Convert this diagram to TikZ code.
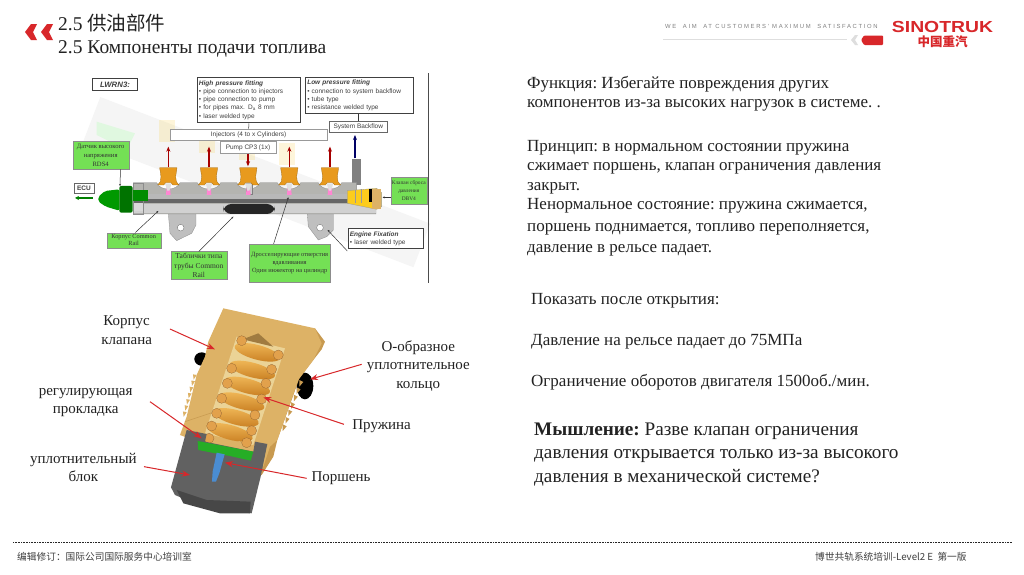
\documentclass[tikz,border=0pt]{standalone}
\usepackage{fontspec}
\setmainfont{Liberation Serif}
\newfontfamily\cjk{Noto Sans CJK SC}
\newfontfamily\sansf{Liberation Sans}
\newfontfamily\tagf[LetterSpace=28]{Liberation Sans}
\usetikzlibrary{arrows.meta,calc}
\definecolor{redm}{HTML}{D8272A}
\definecolor{gbox}{HTML}{74E055}
\definecolor{tan1}{HTML}{DDB266}
\definecolor{tan2}{HTML}{C89A50}
\definecolor{cav}{HTML}{EBD396}
\definecolor{orng}{HTML}{E89A1E}
\definecolor{coilhi}{HTML}{F0B858}
\definecolor{coillo}{HTML}{C97F22}
\definecolor{coilsec}{HTML}{E2A14C}
\definecolor{railg}{HTML}{B4B4B0}
\definecolor{ink}{HTML}{222222}
\tikzset{
 body/.style={anchor=base west,inner sep=0,text=ink,font=\fontsize{17}{18}\selectfont\frenchspacing},
 bigbody/.style={anchor=base west,inner sep=0,text=ink,font=\fontsize{19.2}{20}\selectfont\frenchspacing},
 lab/.style={inner sep=0,align=center,text=ink,font=\fontsize{15}{18.5}\selectfont},
 titl/.style={anchor=base west,inner sep=0,text=ink,font=\fontsize{19.5}{20}\selectfont},
 foot/.style={anchor=west,inner sep=0,text=black!75,font=\fontsize{9.7}{10}\selectfont\cjk},
 redarrow/.style={-{Stealth[length=8pt,width=6pt]},redm,line width=1pt},
 bluntlead/.style={black!80,line width=.5pt},
 whitebox/.style={draw=#1,fill=white,line width=.8pt,inner sep=0,text=black!75,font=\fontsize{6.5}{8.3}\selectfont\sansf},
 whitebox/.default=black!75,
 greenbox/.style={draw=black!45,fill=gbox,line width=.3pt,inner sep=0,align=center,text=black!80,font=\fontsize{6.6}{8.7}\selectfont},
 upr/.style={-{Stealth[length=5pt,width=4pt]},line width=1.3pt,draw=red!65!black},
}
\begin{document}
\begin{tikzpicture}[x=1pt,y=-1pt]
\useasboundingbox (0,0) rectangle (1024,574);
\fill[white] (0,0) rectangle (1024,574);

% header chevrons
\fill[redm] (31,24)--(37,24)--(33,32)--(37,40)--(31,40)--(25,32)--cycle;
\fill[redm] (47,24)--(53,24)--(49,32)--(53,40)--(47,40)--(41,32)--cycle;
\node[titl] (t1) at (58,30) {2.5 {\cjk 供油部件}};
\node[titl] (t2) at (58,53) {2.5 Компоненты подачи топлива};

% logo
\node[anchor=west,inner sep=0,text=black!50,font=\fontsize{5.9}{6}\selectfont\tagf] (tag) at (665,26.5) {WE\ \ AIM\ \ AT CUSTOMERS' MAXIMUM\ \ SATISFACTION};
\draw[black!13,line width=1pt] (663,39.5) -- (847,39.5);
\fill[black!13] (855,35)--(851,40)--(855,45)--(858,45)--(855,40)--(858,35)--cycle;
\fill[redm,rounded corners=1pt] (864,35.5)--(883,35.5)--(883,45)--(864,45)--(861,40)--cycle;
\node[inner sep=0,text=redm,font=\fontsize{16}{16}\selectfont\sansf\bfseries] (logo) at (942.5,27) {\scalebox{1.21}[1]{SINOTRUK}};
\node[inner sep=0,text=redm,font=\fontsize{12.5}{13}\selectfont\cjk\bfseries] (logoc) at (942.5,42) {中国重汽};

% ================= rail picture (reference crop units: 1/3 px)
\begin{scope}[shift={(60,70)},x=.3333pt,y=-.3333pt]
 % faded tube and ghost parts
 \fill[black!4,rotate around={-21:(600,340)}] (60,270) rectangle (1120,410);
 \fill[green!30!white,opacity=.3] (110,155)--(225,190)--(200,240)--(110,195)--cycle;
 \foreach \gx/\gy in {320/170,440/205,560/225,680/240}
  \fill[yellow!55!orange,opacity=.15] (\gx-22,\gy-20) rectangle (\gx+25,\gy+45);
 % vertical rule
 \draw[black!70,line width=.7pt] (1105,10) -- (1105,640);
 % brackets
 \fill[black!25,draw=black!45,line width=.3pt] (325,430)--(408,430)--(408,465)--(395,490)--(350,512)--(330,490)--cycle;
 \fill[white,draw=black!60,line width=.3pt] (362,473) circle (10);
 \fill[black!25,draw=black!45,line width=.3pt] (742,430)--(820,430)--(820,480)--(800,500)--(775,510)--(745,470)--cycle;
 \fill[white,draw=black!60,line width=.3pt] (780,473) circle (10);
 % pipe to backflow
 \fill[black!50] (875,268)--(903,268)--(903,345)--(875,345)--cycle;
 % rail body
 \fill[railg,draw=black!45,line width=.3pt] (220,338)--(290,338) to[out=-70,in=-110] (360,338)--(412,338) to[out=-70,in=-110] (482,338)--(530,338) to[out=-70,in=-110] (600,338)--(652,338) to[out=-70,in=-110] (722,338)--(775,338) to[out=-70,in=-110] (845,338)--(890,338)--(890,400)--(948,400)--(948,432)--(220,432)--cycle;
 \fill[black!60] (220,388)--(890,388)--(890,400)--(220,400)--cycle;
 \fill[black!18] (220,402)--(948,402)--(948,430)--(220,430)--cycle;
 \fill[black!28] (250,372)--(862,372)--(862,388)--(250,388)--cycle;
 \fill[black!15] (220,400) rectangle (250,424);
 \draw[black!45,line width=.3pt] (220,338) rectangle (250,432);
 % name plate
 \fill[black!85,rounded corners=8pt] (490,402) rectangle (645,432);
 % pump port
 \fill[black!20,draw=black!50,line width=.3pt] (559,340) rectangle (575,372);
 % injectors fittings
 \foreach \ix in {325,447,565,688,810}{
  \fill[pink!70!magenta] (\ix-5,350)--(\ix+5,350)--(\ix+7,375)--(\ix-7,375)--cycle;
  \fill[black!12] (\ix-10,340)--(\ix+10,340)--(\ix+3,362)--(\ix-3,362)--cycle;
  \fill[orng,draw=orng!70!black,line width=.3pt] (\ix-26,293)--(\ix+26,293)--(\ix+22,320)--(\ix+24,335)--(\ix+32,345)--(\ix+14,345)--(\ix+8,338)--(\ix-8,338)--(\ix-14,345)--(\ix-32,345)--(\ix-24,335)--(\ix-22,320)--cycle;
 }
 % red arrows
 \foreach \ix/\nm in {325/a,447/b,688/c,810/d}{
  \coordinate (f\nm) at (\ix,292);
  \coordinate (e\nm) at (\ix,230);
  \draw[upr] (f\nm) -- (e\nm);
 }
 % valve right
 \fill[yellow!60!orange!90!white,draw=black!40,line width=.3pt] (862,362)--(950,355)--(965,368)--(965,410)--(950,418)--(862,400)--cycle;
 \fill[black] (927,358) rectangle (936,395);
 \fill[tan1] (936,356) rectangle (962,418);
 \draw[black!40,line width=.3pt] (885,360)--(885,400) (905,358)--(905,400);
 % sensor
 \fill[green!60!black,rounded corners=2pt] (115,380)--(135,363)--(178,358)--(178,422)--(138,410)--(115,395)--cycle;
 \fill[green!45!black,rounded corners=2pt] (178,348) rectangle (218,428);
 \fill[green!55!black] (218,360) rectangle (265,392);
 % boxes
 \node[whitebox,minimum width=45pt,minimum height=12.3pt,font=\fontsize{7.8}{8}\selectfont\sansf\bfseries\itshape,line width=.9pt] (lw) at (165,43.5) {LWRN3:};
 \node[whitebox,anchor=north west,minimum width=103pt,minimum height=45.7pt,align=left,text width=100pt,inner sep=1.4pt,line width=.9pt] (hp) at (411,20)
  {{\bfseries\itshape High pressure fitting}\\ • pipe connection to injectors\\ • pipe connection to pump\\ • for pipes max. D\textsubscript{a} 8 mm\\ • laser welded type};
 \node[whitebox,anchor=north west,minimum width=107.7pt,minimum height=36.7pt,align=left,text width=104pt,inner sep=1.4pt,line width=.9pt] (lp) at (735,20)
  {{\bfseries\itshape Low pressure fitting}\\ • connection to system backflow\\ • tube type\\ • resistance welded type};
 \node[whitebox=black!40,minimum width=156.7pt,minimum height=11.7pt,line width=.5pt] (inj) at (566,194.5) {Injectors (4 to x Cylinders)};
 \node[whitebox=black!40,minimum width=56pt,minimum height=11.7pt,line width=.5pt] (pump) at (564,232.5) {Pump CP3 (1x)};
 \node[whitebox=black!60,minimum width=58pt,minimum height=10.7pt,line width=.5pt] (sb) at (895,171) {System Backflow};
 \node[whitebox=black!60,minimum width=20pt,minimum height=10pt,font=\fontsize{6.5}{7}\selectfont\sansf\bfseries,line width=.4pt] (ecu) at (72,355) {ECU};
 \node[whitebox,anchor=north west,minimum width=75.7pt,minimum height=20pt,align=left,text width=72pt,inner sep=1.4pt,line width=.7pt] (ef) at (863,475)
  {{\bfseries\itshape Engine Fixation}\\ • laser welded type};
 \node[greenbox,minimum width=56pt,minimum height=27.7pt] (g1) at (122,256.5) {Датчик высокого\\напряжения\\RDS4};
 \node[greenbox,minimum width=54pt,minimum height=15pt,font=\fontsize{6.3}{7.3}\selectfont] (g2) at (221,510.5) {Корпус Common\\Rail};
 \node[greenbox,minimum width=55.7pt,minimum height=27.7pt,font=\fontsize{7.5}{9.5}\selectfont] (g3) at (416.5,586.5) {Таблички типа\\трубы Common\\Rail};
 \node[greenbox,minimum width=80.7pt,minimum height=37.7pt,font=\fontsize{6.4}{8.2}\selectfont] (g4) at (689,578.5) {Дросселирующие отверстия\\вдавливания\\Один инжектор на цилиндр};
 \node[greenbox,minimum width=35.7pt,minimum height=27pt,font=\fontsize{5.4}{8}\selectfont] (g5) at (1046.5,362.5) {Клапан сброса\\давления\\DBV4};
 % connectors
 \draw[bluntlead] (hp.south) -- (inj.north);
 \draw[bluntlead] (lp.south -| sb.north) -- (sb.north);
 \draw[upr] (pump.south) -- ++(0,38);
 \coordinate (bfb) at (885,265);
 \coordinate (bft) at (885,195);
 \draw[-{Stealth[length=5pt,width=4pt]},line width=1.3pt,draw=blue!40!black] (bfb) -- (bft);
 \coordinate (ecua) at (98,384); \coordinate (ecub) at (45,384);
 \draw[-{Stealth[length=4pt,width=4pt]},line width=1.2pt,draw=green!50!black] (ecua) -- (ecub);
 \coordinate (l1) at (180,348);
 \draw[bluntlead,-{Stealth[length=2pt,width=2pt]}] (g1.south east) ++(-25,0) -- (l1);
 \coordinate (l2) at (295,423);
 \draw[bluntlead,-{Stealth[length=2pt,width=2pt]}] (g2.north) ++(5,0) -- (l2);
 \coordinate (l3) at (520,440);
 \draw[bluntlead,-{Stealth[length=2pt,width=2pt]}] (g3.north) -- (l3);
 \coordinate (l4) at (685,382);
 \draw[bluntlead,-{Stealth[length=2pt,width=2pt]}] (g4.north) ++(-48,0) -- (l4);
 \coordinate (l5) at (968,382);
 \draw[bluntlead,-{Stealth[length=2pt,width=2pt]}] (g5.west |- l5) -- (l5);
 \coordinate (l6) at (803,480); \coordinate (l6s) at (862,543);
 \draw[bluntlead,-{Stealth[length=2pt,width=2pt]}] (l6s) -- (l6);
\end{scope}

% ================= valve picture
\begin{scope}[shift={(20,300)},x=.3333pt,y=-.3333pt]
 % O-rings
 \fill[black] (545,177) ellipse (22 and 20);
 \fill[black] (855,258) ellipse (25 and 40);
 % right face
 \fill[tan2] (885,85)--(915,125)--(905,148)--(880,180)--(838,235)--(772,420)--(760,470)--(725,525)--(700,530)--(740,430)--(700,300)--cycle;
 % main body
 \fill[tan1] (610,25)--(885,85)--(905,130)--(880,180)--(835,240)--(772,420)--(750,440)--(730,500)--(480,405)--(500,350)--(530,225)--(555,170)--(565,125)--cycle;
 % threads
 \foreach \k in {0,1,...,6}{
  \fill[tan1] ($(530,225)!\k/7!(495,355)$) -- ++(-11,-2) -- ++(2,16) -- cycle;
  \fill[tan2] ($(838,240)!\k/7!(780,395)$) -- ++(12,6) -- ++(-12,14) -- cycle;
 }
 \draw[tan2,line width=.5pt] (495,365)--(585,335);
 % cavity
 \fill[cav] (650,110)--(795,145)--(700,435)--(555,400)--cycle;
 \fill[tan2!80!black] (715,100)--(760,140)--(668,118)--cycle;
 % spring turns
 \foreach \cx/\cy in {712/157,697/210,682/258,665/305,648/352,630/397}
  \shade[top color=coilhi,bottom color=coillo,shift={(\cx,\cy)},rotate=-15] (0,0) ellipse (70 and 22);
 % coil sections
 \foreach \cx/\cy in {665/122,775/165,635/205,755/208,622/250,738/250,605/295,725/297,590/340,705/345,575/378,695/392,567/415,680/428}
  \fill[coilsec,draw=brown!70!black,line width=.2pt] (\cx,\cy) circle (15);
 % grey block
 \fill[black!62] (500,390)--(560,402)--(555,425)--(700,455)--(705,425)--(742,432)--(722,530)--(695,640)--(560,625)--(465,585)--(453,562)--cycle;
 \fill[black!72] (470,570)--(560,600)--(692,605)--(690,640)--(600,640)--(490,610)--cycle;
 % seat piece
 \fill[green!62!black!85!white] (533,423)--(700,455)--(692,482)--(630,468)--(612,465)--(535,450)--cycle;
 % piston
 \fill[cyan!55!blue!75!white] (590,458)--(614,463)--(598,520)--(588,545)--(576,545)--(578,515)--cycle;
 % labels and arrows
 \node[lab] (kk) at (320,90) {Корпус\\клапана};
 \node[lab] (or) at (1195,197) {О-образное\\уплотнительное\\кольцо};
 \node[lab] (rp) at (197,308) {регулирующая\\прокладка};
 \node[lab] (sp) at (1085,378) {Пружина};
 \node[lab] (ub) at (190,503) {уплотнительный\\блок};
 \node[lab] (po) at (963,535) {Поршень};
 \coordinate (a1) at (585,148);
 \coordinate (a2) at (870,238);
 \coordinate (a3) at (730,292);
 \coordinate (a4) at (545,415);
 \coordinate (a5) at (510,525);
 \coordinate (a6) at (615,488);
 \coordinate (s1) at (450,87);
 \coordinate (s2) at (1025,193);
 \coordinate (s3) at (972,373);
 \coordinate (s4) at (390,305);
 \coordinate (s5) at (372,500);
 \coordinate (s6) at (860,535);
 \draw[redarrow] (s1) -- (a1);
 \draw[redarrow] (s2) -- (a2);
 \draw[redarrow] (s3) -- (a3);
 \draw[redarrow] (s4) -- (a4);
 \draw[redarrow] (s5) -- (a5);
 \draw[redarrow] (s6) -- (a6);
\end{scope}

% ================= text on the right
\node[body] (r1) at (527,88) {Функция: Избегайте повреждения других};
\node[body] (r2) at (527,107) {компонентов из-за высоких нагрузок в системе. .};
\node[body] (r3) at (527,151) {Принцип: в нормальном состоянии пружина};
\node[body] (r4) at (527,170) {сжимает поршень, клапан ограничения давления};
\node[body] (r5) at (527,190) {закрыт.};
\node[body] (r6) at (527,209) {Ненормальное состояние: пружина сжимается,};
\node[body] (r7) at (527,231) {поршень поднимается, топливо переполняется,};
\node[body] (r8) at (527,252) {давление в рельсе падает.};
\node[body] (r9) at (531,304) {Показать после открытия:};
\node[body] (r10) at (531,345) {Давление на рельсе падает до 75МПа};
\node[body] (r11) at (531,386) {Ограничение оборотов двигателя 1500об./мин.};
\node[bigbody] (r12) at (534,435) {\textbf{Мышление:} Разве клапан ограничения};
\node[bigbody] (r13) at (534,458) {давления открывается только из-за высокого};
\node[bigbody] (r14) at (534,482) {давления в механической системе?};

% footer
\coordinate (fl) at (13,542.5); \coordinate (fr) at (1012,542.5);
\draw[black!85,line width=1.6pt,dash pattern=on .8pt off .8pt] (fl) -- (fr);
\node[foot] (f1) at (17,557) {编辑修订：国际公司国际服务中心培训室};
\node[foot] (f2) at (815,557) {博世共轨系统培训-Level2 E\ \ 第一版};
\end{tikzpicture}
\end{document}
